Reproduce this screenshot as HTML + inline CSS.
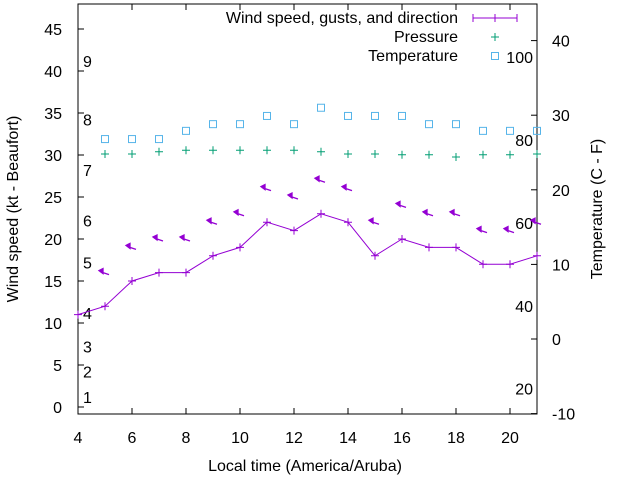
<!DOCTYPE html>
<html><head><meta charset="utf-8"><style>
body{margin:0;background:#fff}
svg text{font-family:"Liberation Sans",sans-serif;font-size:16px;fill:#000}
</style></head><body>
<svg id="chart" width="640" height="480" xmlns="http://www.w3.org/2000/svg"></svg>
<script>
const hours=[4,5,6,7,8,9,10,11,12,13,14,15,16,17,18,19,20,21];
const windSpeed=[11,12,15,16,16,18,19,22,21,23,22,18,20,19,19,17,17,18];
const gustHours=[5,6,7,8,9,10,11,12,13,14,15,16,17,18,19,20,21];
const gusts=[16,19,20,20,22,23,26,25,27,26,22,24,23,23,21,21,22];
const tempHours=[5,6,7,8,9,10,11,12,13,14,15,16,17,18,19,20,21];
const temps=[26.8,26.8,26.8,27.9,28.8,28.8,29.9,28.8,31,29.9,29.9,29.9,28.8,28.8,27.9,27.9,27.9];
const pressure=[24.8,24.8,25.1,25.3,25.3,25.3,25.3,25.3,25.1,24.8,24.8,24.7,24.7,24.4,24.7,24.7,24.8];
const xTicks=[4,6,8,10,12,14,16,18,20];
const yTicks=[0,5,10,15,20,25,30,35,40,45];
const y2Ticks=[-10,0,10,20,30,40];
const beaufort=[[1,1.2],[2,4.2],[3,7.2],[4,11.2],[5,17.2],[6,22.2],[7,28.2],[8,34.2],[9,41.2]];
const fahr=[20,40,60,80,100];
const L=78,R=537,T=4,B=414;
const X=v=>L+(v-4)*(R-L)/17;
const Y=v=>407-v*8.4;
const Y2=v=>339-v*7.46;
const s=document.getElementById('chart');
function el(tag,attrs,txt){const e=document.createElementNS('http://www.w3.org/2000/svg',tag);for(const k in attrs)e.setAttribute(k,attrs[k]);if(txt!==undefined)e.textContent=txt;s.appendChild(e);return e;}
let e;
e=el('rect',{x:L,y:T,width:R-L,height:B-T,fill:'none',stroke:'#000','stroke-width':1});


xTicks.forEach(t=>{
 e=el('line',{x1:X(t),x2:X(t),y1:B,y2:B-6,stroke:'#000'});
 
 
 e=el('line',{x1:X(t),x2:X(t),y1:T,y2:T+6,stroke:'#000'});
 
 
 e=el('text',{x:X(t),y:443,'text-anchor':'middle'},t);
 
 
});
yTicks.forEach(t=>{
 e=el('line',{x1:L,x2:L+6,y1:Y(t),y2:Y(t),stroke:'#000'});
 
 
 e=el('text',{x:62,y:Y(t)+6,'text-anchor':'end'},t);
 
 
});
y2Ticks.forEach(t=>{
 e=el('line',{x1:R,x2:R-6,y1:Y2(t),y2:Y2(t),stroke:'#000'});
 
 
 e=el('text',{x:552,y:Y2(t)+6},t);
 
 
});
beaufort.forEach(b=>{
 e=el('text',{x:83,y:Y(b[1])+6},b[0]);
 
 
});
fahr.forEach(f=>{
 e=el('text',{x:533,y:Y2((f-32)*5/9)+6,'text-anchor':'end'},f);
 
 
});
e=el('text',{x:305,y:471,'text-anchor':'middle'},'Local time (America/Aruba)');


e=el('text',{x:0,y:0,'text-anchor':'middle',transform:'translate(18,209) rotate(-90)'},'Wind speed (kt - Beaufort)');


e=el('text',{x:0,y:0,'text-anchor':'middle',transform:'translate(602,209) rotate(-90)'},'Temperature (C - F)');


e=el('polyline',{points:hours.map((h,i)=>X(h)+','+Y(windSpeed[i])).join(' '),fill:'none',stroke:'#9400d3','stroke-width':1});


hours.forEach((h,i)=>{
 e=el('path',{d:`M${X(h)-4},${Y(windSpeed[i])}h8M${X(h)},${Y(windSpeed[i])-4}v8`,stroke:'#9400d3','stroke-width':1});
 
 
});
gustHours.forEach((h,i)=>{
 const x=X(h)-5,y=Y(gusts[i])-1;
 e=el('path',{d:`M${x},${y}L${x+9},${y+3}M${x-1},${y-1}l4,-2l0,5z`,stroke:'#9400d3','stroke-width':1.3,fill:'#9400d3'});
 
 
});
tempHours.forEach((h,i)=>{
 e=el('rect',{x:X(h)-3.5,y:Y2(temps[i])-3.5,width:7,height:7,fill:'none',stroke:'#56b4e9','stroke-width':1});
 
 
 e=el('path',{d:`M${X(h)-4},${Y2(pressure[i])}h8M${X(h)},${Y2(pressure[i])-4}v8`,stroke:'#009e73','stroke-width':1});
 
 
});
e=el('text',{x:458,y:23,'text-anchor':'end'},'Wind speed, gusts, and direction');


e=el('path',{d:'M473,18h44M473,14v8M517,14v8M495,14v8',stroke:'#9400d3'});


e=el('text',{x:458,y:42,'text-anchor':'end'},'Pressure');


e=el('path',{d:'M491,37h8M495,33v8',stroke:'#009e73'});


e=el('text',{x:458,y:61,'text-anchor':'end'},'Temperature');


e=el('rect',{x:491.5,y:52.5,width:7,height:7,fill:'none',stroke:'#56b4e9'});


</script>
</body></html>
